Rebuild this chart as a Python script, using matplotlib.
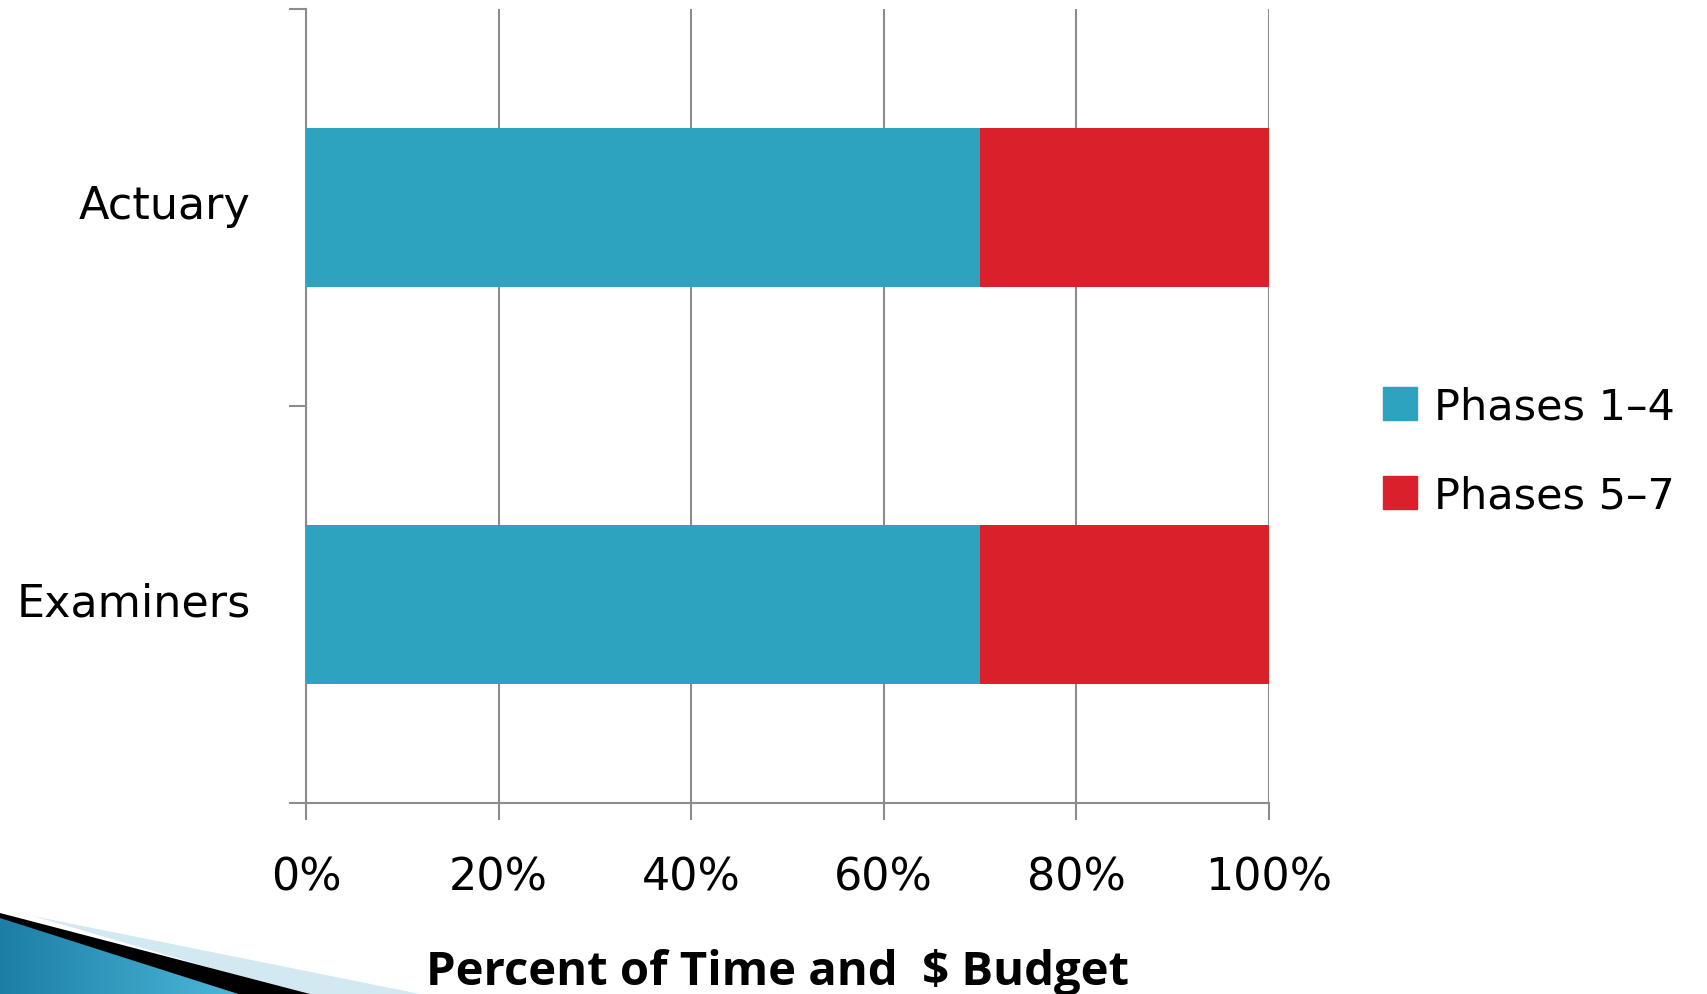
import matplotlib
matplotlib.use("Agg")
import matplotlib.pyplot as plt
import numpy as np
from matplotlib.patches import Polygon, Patch
from matplotlib.ticker import PercentFormatter
from matplotlib.transforms import ScaledTranslation
from matplotlib.colors import LinearSegmentedColormap

categories = ["Examiners", "Actuary"]
phases_1_4 = [70, 70]
phases_5_7 = [30, 30]
series_names = ["Phases 1\u20134", "Phases 5\u20137"]
x_ticks = [0, 20, 40, 60, 80, 100]
xlabel = "Percent of Time and  $ Budget"

TEAL = "#2EA3BF"
RED = "#DA202A"
GREY = "#8C8C8C"

W, H = 1707, 995
fig = plt.figure(figsize=(W / 100, H / 100), dpi=100)
plt.rcParams['font.family'] = ['DejaVu Sans']

ax = fig.add_axes([306 / W, 1 - 804 / H, (1269 - 306) / W, (804 - 10) / H])
y = np.arange(len(categories))
ax.barh(y, phases_1_4, height=0.4, color=TEAL, zorder=3)
ax.barh(y, phases_5_7, left=phases_1_4, height=0.4, color=RED, zorder=3)

ax.set_xlim(0, 100)
ax.set_ylim(-0.5, 1.5)
ax.set_xticks(x_ticks)
ax.xaxis.set_major_formatter(PercentFormatter(decimals=0))
ax.grid(axis='x', color=GREY, linewidth=1.5, zorder=0)
ax.set_yticks([-0.5, 0.5, 1.5])
ax.set_yticklabels([])
ax.set_yticks(y, minor=True)
ax.set_yticklabels(categories, minor=True)
ax.tick_params(axis='y', which='minor', length=0, pad=40, labelsize=32)
ax.tick_params(axis='y', which='major', length=12, width=1.5, color=GREY, direction='out')
ax.tick_params(axis='x', length=12, width=1.5, color=GREY, direction='out', pad=26, labelsize=32)
for lbl in ax.get_yticklabels(minor=True):
    lbl.set_transform(lbl.get_transform() + ScaledTranslation(0, 6 / 100, fig.dpi_scale_trans))
for s in ['top', 'right']:
    ax.spines[s].set_visible(False)
for s in ['left', 'bottom']:
    ax.spines[s].set_color(GREY)
    ax.spines[s].set_linewidth(1.5)

handles = [Patch(color=TEAL), Patch(color=RED)]
fig.legend(handles, series_names, loc='center left', bbox_to_anchor=(1383 / W, 1 - 452 / H),
           frameon=False, fontsize=31, handlelength=0.79, handleheight=0.79,
           handletextpad=0.4, labelspacing=1.1, borderpad=0, borderaxespad=0)

fig.text(777 / W, 1 - 985 / H, xlabel, ha='center', va='baseline', fontsize=34,
         fontweight='bold', family=['Open Sans', 'DejaVu Sans'])

# decorative swoosh bottom-left
deco = fig.add_axes([0, 0, 1, 1], zorder=-1)
deco.set_xlim(0, W)
deco.set_ylim(H, 0)
deco.axis('off')
deco.add_patch(Polygon([(33, 917), (420, 995), (300, 995)], closed=True, color="#D3E9F1", lw=0))
grad = np.linspace(0, 1, 256).reshape(1, -1)
cmap = LinearSegmentedColormap.from_list("b", ["#1C7EA5", "#4DB8DA"])
im = deco.imshow(grad, extent=[0, 240, 995, 915], cmap=cmap, aspect='auto')
clip = Polygon([(0, 918), (238, 995), (0, 995)], closed=True, transform=deco.transData)
im.set_clip_path(clip)
deco.add_patch(Polygon([(0, 914), (310, 995), (238, 995), (0, 919)], closed=True, color="black", lw=0))
deco.set_xlim(0, W)
deco.set_ylim(H, 0)

fig.savefig("out.png", dpi=100)
